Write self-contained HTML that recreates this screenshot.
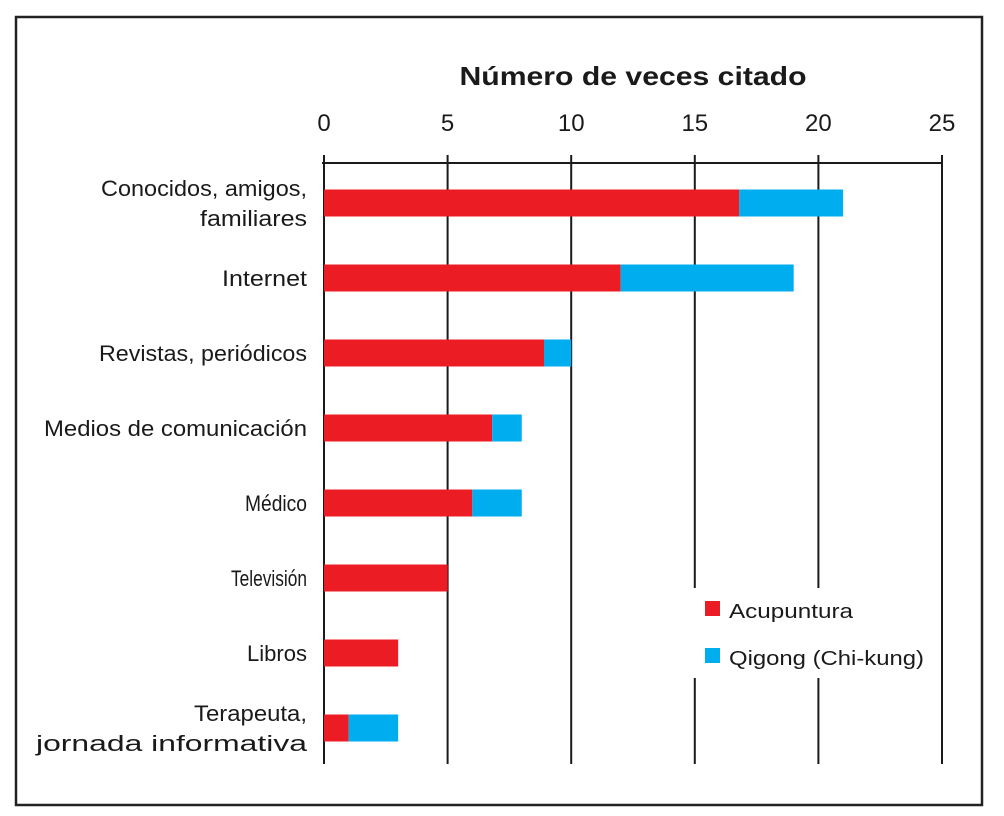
<!DOCTYPE html>
<html><head><meta charset="utf-8"><style>
html,body{margin:0;padding:0;background:#fff;}
svg{display:block;font-family:"Liberation Sans",sans-serif;}
</style></head><body>
<svg id="chart" width="1004" height="816">
<rect x="16" y="17" width="966" height="788" fill="none" stroke="#222" stroke-width="2.5"/>
<text x="633" y="85" text-anchor="middle" font-size="26" font-weight="bold" fill="#1a1a1a" textLength="347" lengthAdjust="spacingAndGlyphs">Número de veces citado</text>
<g id="grid"></g><g id="bars"></g><g id="labels"></g>
<rect x="688" y="588" width="240" height="90" fill="#fff"/>
<rect x="705" y="601" width="15" height="15" fill="#ec1c24"/>
<text x="729" y="618" font-size="20" fill="#1a1a1a" textLength="124" lengthAdjust="spacingAndGlyphs">Acupuntura</text>
<rect x="705" y="648" width="15" height="15" fill="#00aeef"/>
<text x="729" y="665" font-size="20" fill="#1a1a1a" textLength="195" lengthAdjust="spacingAndGlyphs">Qigong (Chi-kung)</text>
</svg>
<script>
const categories=[["Conocidos, amigos,","familiares"],["Internet"],["Revistas, periódicos"],["Medios de comunicación"],["Médico"],["Televisión"],["Libros"],["Terapeuta,","jornada informativa"]];
const acupuntura=[16.8,12,8.9,6.8,6,5,3,1];
const qigong=[4.2,7,1.1,1.2,2,0,0,2];
const ticks=[0,5,10,15,20,25];
const NS="http://www.w3.org/2000/svg";
const x0=324,x1=942,xmax=25;
function xs(v){return x0+(x1-x0)*v/xmax;}
function ys(i){return 203+i*75;}
function mk(tag,attrs,parent){const e=document.createElementNS(NS,tag);for(const k in attrs)e.setAttribute(k,attrs[k]);parent.appendChild(e);return e;}
const grid=document.getElementById('grid'),bars=document.getElementById('bars'),labels=document.getElementById('labels');
let ax=mk('line',{x1:xs(0)-2,x2:xs(xmax)+1,y1:163,y2:163,stroke:'#1a1a1a','stroke-width':2},grid);


ticks.forEach(t=>{
 let l=mk('line',{x1:xs(t),x2:xs(t),y1:155,y2:764,stroke:'#1a1a1a','stroke-width':2},grid);
 
 
 let tx=mk('text',{x:xs(t),y:131,'text-anchor':'middle','font-size':24,fill:'#1a1a1a'},grid);
 tx.textContent=t;
 
 
});
const widths=[[206,107],[85],[208],[263],[62],[76],[60],[113,271]];
categories.forEach((c,i)=>{
 const y=ys(i),h=27;
 let r=mk('rect',{x:xs(0),y:y-h/2,width:xs(acupuntura[i])-xs(0),height:h,fill:'#ec1c24'},bars);
 
 
 if(qigong[i]>0){
  let b=mk('rect',{x:xs(acupuntura[i]),y:y-h/2,width:xs(acupuntura[i]+qigong[i])-xs(acupuntura[i]),height:h,fill:'#00aeef'},bars);
  
  
 }
 const n=c.length;
 c.forEach((s,j)=>{
  const yy=y+8+(j-(n-1)/2)*30;
  let t=mk('text',{x:307,y:yy,'text-anchor':'end','font-size':22,fill:'#1a1a1a',textLength:widths[i][j],lengthAdjust:'spacingAndGlyphs'},labels);
  t.textContent=s;
  
  
 });
});
</script>
</body></html>
